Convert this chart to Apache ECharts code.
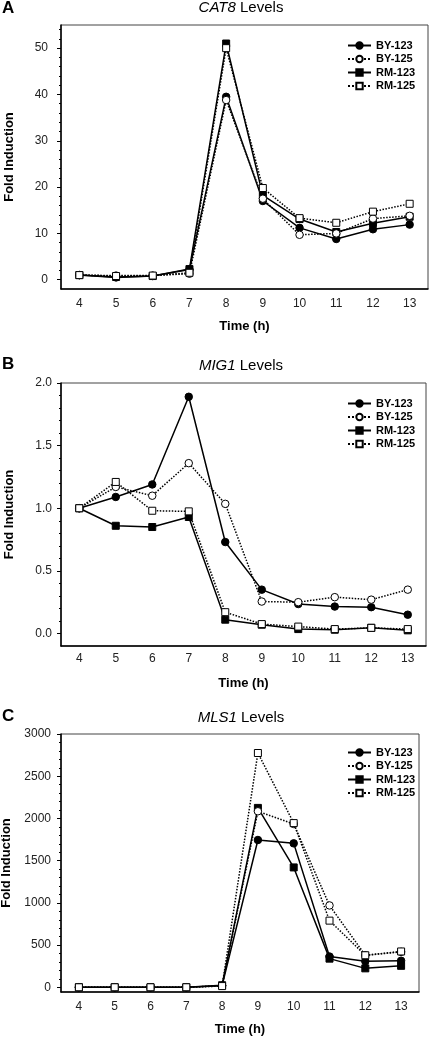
<!DOCTYPE html>
<html>
<head>
<meta charset="utf-8">
<script src="https://cdn.jsdelivr.net/npm/echarts@6/dist/echarts.min.js"></script>
<style>
html,body{margin:0;padding:0;background:#fff;}
#chart{width:430px;height:1038px;}
</style>
</head>
<body>
<div id="chart"></div>
<script>
// ---- data ----
const hours = ['4','5','6','7','8','9','10','11','12','13'];
const seriesNames = ['BY-123','BY-125','RM-123','RM-125'];

const cat8_BY123 = [1.0, 0.5, 0.8, 2.2, 39.5, 17.0, 11.2, 8.8, 10.9, 11.9];
const cat8_BY125 = [1.0, 0.9, 0.9, 1.3, 38.8, 17.5, 9.7, 10.0, 13.2, 13.8];
const cat8_RM123 = [1.0, 0.6, 0.8, 2.3, 51.0, 18.2, 13.1, 10.3, 12.2, 13.6];
const cat8_RM125 = [1.0, 0.8, 0.9, 1.5, 50.0, 19.8, 13.3, 12.3, 14.7, 16.4];

const mig1_BY123 = [1.0, 1.09, 1.19, 1.89, 0.73, 0.35, 0.235, 0.215, 0.21, 0.15];
const mig1_BY125 = [1.0, 1.17, 1.10, 1.36, 1.035, 0.255, 0.25, 0.29, 0.27, 0.35];
const mig1_RM123 = [1.0, 0.86, 0.85, 0.93, 0.11, 0.07, 0.035, 0.03, 0.045, 0.025];
const mig1_RM125 = [1.0, 1.21, 0.98, 0.975, 0.17, 0.075, 0.055, 0.035, 0.045, 0.035];

const mls1_BY123 = [1, 1, 1, 1, 20, 1745, 1705, 365, 310, 315];
const mls1_BY125 = [1, 1, 1, 1, 20, 2085, 1935, 970, 380, 420];
const mls1_RM123 = [1, 1, 1, 1, 25, 2125, 1420, 340, 225, 255];
const mls1_RM125 = [1, 1, 1, 1, 15, 2775, 1945, 790, 380, 425];

const cat8Major = [0, 10, 20, 30, 40, 50];
const mig1Major = [0, 0.5, 1.0, 1.5, 2.0];
const mls1Major = [0, 500, 1000, 1500, 2000, 2500, 3000];

// ---- chart ----
const FONT = '"Liberation Sans", Arial, sans-serif';
const chart = echarts.init(document.getElementById('chart'), null, {renderer: 'canvas'});

function minorVals(from, to, step, majorStep) {
  const out = [];
  const n = Math.round((to - from) / step);
  for (let i = 0; i <= n; i++) {
    const v = +(from + i * step).toFixed(6);
    const r = v / majorStep;
    if (Math.abs(r - Math.round(r)) > 1e-6) out.push(v);
  }
  return out;
}

const panels = [
  {grid: {left: 61, top: 25, width: 367, height: 264}, min: -2, max: 55, major: cat8Major, minor: minorVals(0, 54, 2, 10),
   fmt: v => String(v), labelMargin: 13, data: [cat8_BY123, cat8_BY125, cat8_RM123, cat8_RM125],
   legendTop: 35, xLabelMargin: 9},
  {grid: {left: 61, top: 383, width: 365, height: 263}, min: -0.1, max: 2.0, major: mig1Major, minor: minorVals(0, 2.0, 0.1, 0.5),
   fmt: v => v.toFixed(1), labelMargin: 9, data: [mig1_BY123, mig1_BY125, mig1_RM123, mig1_RM125],
   legendTop: 393, xLabelMargin: 7},
  {grid: {left: 61, top: 734, width: 358, height: 258}, min: -55, max: 3000, major: mls1Major, minor: minorVals(0, 3000, 100, 500),
   fmt: v => String(v), labelMargin: 10, data: [mls1_BY123, mls1_BY125, mls1_RM123, mls1_RM125],
   legendTop: 742, xLabelMargin: 9}
];

const styles = [
  {symbol: 'circle', fill: '#000', dash: 'solid'},
  {symbol: 'circle', fill: '#fff', dash: 'dotted'},
  {symbol: 'rect', fill: '#000', dash: 'solid'},
  {symbol: 'rect', fill: '#fff', dash: 'dotted'}
];

const grids = [], xAxes = [], yAxes = [], series = [], legends = [];
panels.forEach((p, gi) => {
  grids.push(Object.assign({show: true, borderColor: '#444', borderWidth: 1, backgroundColor: 'transparent',
    containLabel: false, outerBoundsMode: 'none'}, p.grid));
  xAxes.push({
    type: 'category', gridIndex: gi, data: hours, boundaryGap: true,
    axisLine: {onZero: false, lineStyle: {color: '#000', width: 1.5}},
    axisTick: {alignWithLabel: true, length: 4, lineStyle: {color: '#000', width: 1}},
    axisLabel: {color: '#222', fontSize: 12, fontFamily: FONT, margin: p.xLabelMargin, interval: 0},
    name: 'Time (h)', nameLocation: 'middle', nameGap: 31,
    nameTextStyle: {fontSize: 13, fontWeight: 'bold', color: '#000', fontFamily: FONT}
  });
  yAxes.push({
    type: 'value', gridIndex: gi, min: p.min, max: p.max, position: 'left',
    splitLine: {show: false},
    axisLine: {show: true, onZero: false, lineStyle: {color: '#000', width: 1.5}},
    axisTick: {show: true, length: 4, customValues: p.major, lineStyle: {color: '#000', width: 1}},
    axisLabel: {color: '#222', fontSize: 12, fontFamily: FONT, margin: p.labelMargin, customValues: p.major,
      formatter: p.fmt},
    name: 'Fold Induction', nameLocation: 'middle', nameGap: 45,
    nameTextStyle: {fontSize: 13, fontWeight: 'bold', color: '#000', fontFamily: FONT}
  });
  yAxes.push({
    type: 'value', gridIndex: gi, min: p.min, max: p.max, position: 'left', offset: 0,
    splitLine: {show: false},
    axisLine: {show: false},
    axisTick: {show: true, length: 2, customValues: p.minor, lineStyle: {color: '#000', width: 1}},
    axisLabel: {show: false}
  });
  p.data.forEach((arr, si) => {
    const s = styles[si];
    series.push({
      type: 'line', name: seriesNames[si], xAxisIndex: gi, yAxisIndex: gi * 2,
      data: arr, symbol: s.symbol, symbolSize: s.symbol === 'rect' ? 7 : 7.5,
      showAllSymbol: true,
      lineStyle: {color: '#000', width: 1.5, type: s.dash},
      itemStyle: {color: s.fill, borderColor: '#000', borderWidth: 1},
      emphasis: {disabled: true},
      z: si % 2 === 1 ? 3 : 2
    });
  });
  legends.push({
    orient: 'vertical', left: 342, top: p.legendTop, itemWidth: 23, itemHeight: 8, itemGap: 2.5,
    data: seriesNames, selectedMode: false,
    textStyle: {fontSize: 11, fontWeight: 'bold', color: '#000', fontFamily: FONT, lineHeight: 11}
  });
});

function letter(t, top) {
  return {text: t, left: 2, top: top, padding: 0,
    textStyle: {fontSize: 17, fontWeight: 'bold', color: '#000', fontFamily: FONT}};
}
function heading(gene, top) {
  return {text: '{i|' + gene + '} Levels', left: 241, top: top, padding: 0, textAlign: 'center',
    textStyle: {fontSize: 15, fontWeight: 'normal', color: '#000', fontFamily: FONT,
      rich: {i: {fontSize: 15, fontStyle: 'italic', color: '#000', fontFamily: FONT}}}};
}
const titles = [
  letter('A', 0), heading('CAT8', 0),
  letter('B', 356), heading('MIG1', 358),
  letter('C', 708), heading('MLS1', 710)
];

chart.setOption({
  animation: false,
  backgroundColor: '#fff',
  title: titles,
  legend: legends,
  grid: grids,
  xAxis: xAxes,
  yAxis: yAxes,
  series: series
});
</script>
</body>
</html>
